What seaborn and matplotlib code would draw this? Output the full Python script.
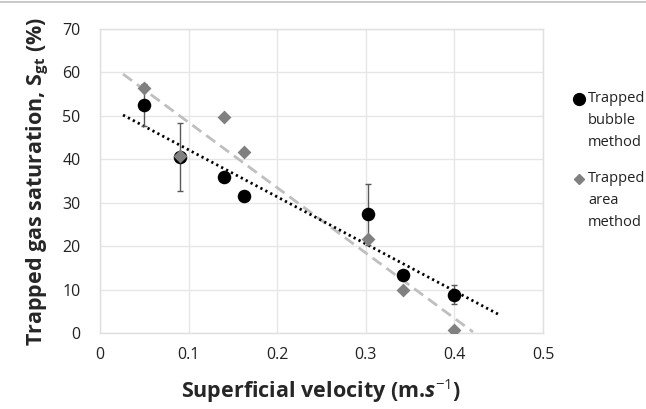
import numpy as np
import pandas as pd
import matplotlib
matplotlib.use("Agg")
import matplotlib.pyplot as plt
import seaborn as sns
from matplotlib.lines import Line2D

# Data
velocity = [0.05, 0.09, 0.14, 0.163, 0.303, 0.342, 0.40]
bubble_sat = [52.5, 40.5, 36.0, 31.5, 27.3, 13.3, 8.8]
bubble_err = [4.8, 7.9, 0.0, 0.0, 7.0, 0.0, 2.2]
area_sat = [56.3, 40.8, 49.8, 41.6, 21.7, 10.0, 0.8]
series_labels = [["Trapped", "bubble", "method"], ["Trapped", "area", "method"]]
x_ticks = [0, 0.1, 0.2, 0.3, 0.4, 0.5]
y_ticks = [0, 10, 20, 30, 40, 50, 60, 70]
bubble_trend_range = [0.026, 0.45]
area_trend_range = [0.026, 0.421]

sns.set_theme(style="white")
FONT = 'Open Sans'
plt.rcParams['font.family'] = [FONT, 'DejaVu Sans']
plt.rcParams['mathtext.fontset'] = 'custom'
plt.rcParams['mathtext.rm'] = FONT
plt.rcParams['mathtext.it'] = FONT + ':italic:bold'
plt.rcParams['mathtext.bf'] = FONT + ':bold'

W, H = 646, 409
fig = plt.figure(figsize=(W/100, H/100), dpi=100)
ax = fig.add_axes([100/W, 1-333/H, 443/W, 304/H])

df_b = pd.DataFrame({"x": velocity, "y": bubble_sat})
df_a = pd.DataFrame({"x": velocity, "y": area_sat})

# trendlines (linear fits of each series)
cb = np.polyfit(velocity, bubble_sat, 1)
ca = np.polyfit(velocity, area_sat, 1)
xb = np.array(bubble_trend_range)
xa = np.array(area_trend_range)
ax.plot(xa, np.polyval(ca, xa), color="#bfbfbf", lw=2.0, ls=(0, (4, 2.2)), zorder=2)
ax.plot(xb, np.polyval(cb, xb), color="#000000", lw=2.0, ls=(0, (0.8, 1.2)), zorder=2)

# error bars
ax.errorbar(velocity, bubble_sat, yerr=bubble_err, fmt="none", ecolor="#595959",
            elinewidth=1.0, capsize=2.5, capthick=1.0, zorder=3)

sns.scatterplot(data=df_b, x="x", y="y", ax=ax, marker="o", s=95, color="black",
                edgecolor="black", linewidth=0, zorder=4)
sns.scatterplot(data=df_a, x="x", y="y", ax=ax, marker="D", s=50, color="#808080",
                edgecolor="#808080", linewidth=0, zorder=5)

ax.set_xlim(0, 0.5)
ax.set_ylim(0, 70)
ax.set_xticks(x_ticks)
ax.set_xticklabels([f"{t:g}" for t in x_ticks])
ax.set_yticks(y_ticks)
ax.grid(True, color="#e6e6e6", lw=1.0)
for s in ax.spines.values():
    s.set_color("#e0e0e0")
    s.set_linewidth(1.0)
ax.tick_params(axis="both", length=0, labelsize=11.5, colors="#222222")
ax.tick_params(axis="x", pad=10)
ax.tick_params(axis="y", pad=14)
ax.set_xlabel("Superficial velocity (m.$\\it{s}$$^{\\mathrm{-1}}$)", fontsize=15.5,
              fontweight="bold", labelpad=10)
ax.set_ylabel("Trapped gas saturation, S$_{\\mathbf{gt}}$ (%)", fontsize=15.5,
              fontweight="bold", labelpad=8)

# legend (drawn manually in figure pixels)
def fx(px):
    return px / W
def fy(py):
    return 1 - py / H

fig.add_artist(Line2D([fx(579)], [fy(99)], marker="o", color="black", ls="none",
                      markersize=8.5, transform=fig.transFigure))
fig.add_artist(Line2D([fx(579)], [fy(179)], marker="D", color="#808080", ls="none",
                      markersize=5.5, transform=fig.transFigure))
for lines, y0 in zip(series_labels, [99, 179]):
    for i, t in enumerate(lines):
        fig.text(fx(588), fy(y0 + i * 22), t, fontsize=10.5, color="#222222",
                 ha="left", va="center")

fig.add_artist(Line2D([0, 1], [fy(2), fy(2)], color="#c0c0c0", lw=1.2,
                      transform=fig.transFigure))

fig.savefig("out.png", dpi=100)
